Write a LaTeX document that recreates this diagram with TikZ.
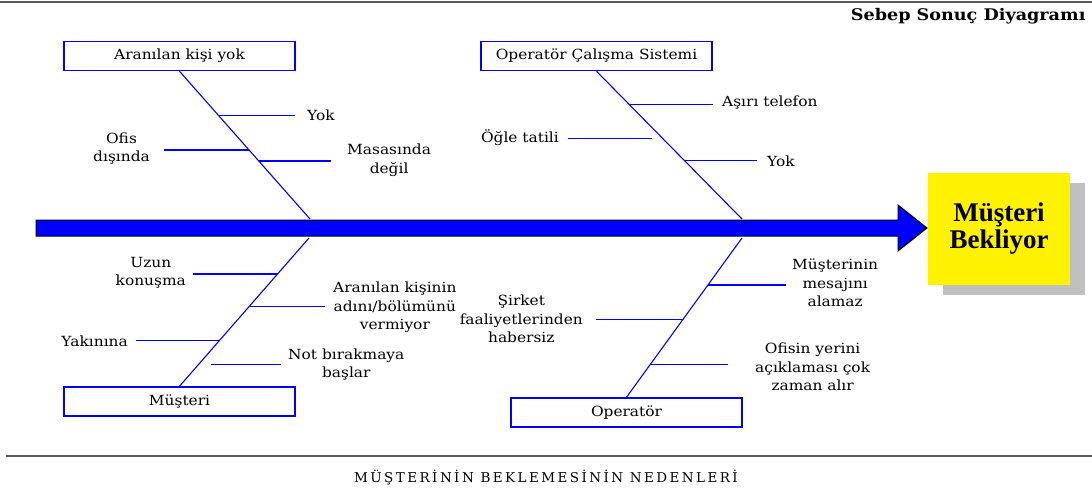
\documentclass[tikz,border=0pt]{standalone}
\usepackage{fontspec}
\setmainfont{DejaVu Serif}[FakeStretch=1.1]
\newfontfamily\headfont{Liberation Serif}
\newfontfamily\capfont{DejaVu Serif}[LetterSpace=18]
\usetikzlibrary{calc, shadows}
\definecolor{bonecol}{RGB}{0, 0, 255}
\definecolor{shadowgray}{RGB}{192, 192, 192}
\definecolor{railgray}{RGB}{90, 90, 90}

\tikzset{
  catbox/.style={draw=bonecol, line width=1.5pt, fill=white, minimum width=231pt, minimum height=29pt, inner sep=0pt, font=\fontsize{14}{17}\selectfont},
  bone/.style={bonecol, line width=1.1pt},
  rib/.style={bonecol, line width=1.6pt, shorten >=10pt},
  cause/.style={align=center, inner xsep=0pt, inner ysep=1pt, font=\fontsize{14}{18.5}\selectfont},
}

\begin{document}
\begin{tikzpicture}[x=1pt, y=-1pt]
  \useasboundingbox (0,0) rectangle (1092,490);
  % page rules
  \draw[railgray, line width=2.5pt] (0,2) -- (1092,2);
  \draw[railgray, line width=2pt] (6,456) -- (1092,456);
  \node[anchor=east, font=\bfseries\fontsize{16}{18}\selectfont] (title) at (1089,16) {Sebep Sonuç Diyagramı};
  \node[font=\capfont\fontsize{13.5}{15}\selectfont] (caption) at (546,478) {MÜŞTERİNİN BEKLEMESİNİN NEDENLERİ};

  % spine
  \filldraw[fill=bonecol, draw=black, line width=1pt] (36,220) -- (898,220) -- (898,205) -- (927,228) -- (898,251) -- (898,236) -- (36,236) -- cycle;
  \coordinate (j1) at (310,219);
  \coordinate (j2) at (742,219);
  \coordinate (j3) at (309,238);
  \coordinate (j4) at (742,238);

  % effect
  \node[fill=yellow, minimum width=142pt, minimum height=112pt, align=center,
        drop shadow={shadow xshift=15pt, shadow yshift=-10pt, fill=shadowgray, opacity=1},
        font=\headfont\bfseries\fontsize{27}{27}\selectfont] (effect) at (999,229) {Müşteri\\Bekliyor};

  % categories
  \node[catbox] (absent) at (179.5,56) {Aranılan kişi yok};
  \node[catbox] (system) at (596.5,56) {Operatör Çalışma Sistemi};
  \node[catbox] (customer) at (179.5,401.5) {Müşteri};
  \node[catbox] (operator) at (626.5,412.5) {Operatör};

  % bones
  \draw[bone] (absent.south) -- (j1) coordinate[pos=0.30] (r11) coordinate[pos=0.535] (r12) coordinate[pos=0.609] (r13);
  \draw[bone] (system.south) -- (j2) coordinate[pos=0.226] (r21) coordinate[pos=0.455] (r22) coordinate[pos=0.603] (r23);
  \draw[bone] (customer.north) -- (j3) coordinate[pos=0.758] (r31) coordinate[pos=0.537] (r32) coordinate[pos=0.309] (r33) coordinate[pos=0.148] (r34);
  \draw[bone] (operator.north) -- (j4) coordinate[pos=0.706] (r41) coordinate[pos=0.4875] (r42) coordinate[pos=0.206] (r43);

  % causes, Aranılan kişi yok
  \node[cause, anchor=west] (l11) at (307,115) {Yok};
  \node[cause, anchor=east] (l12) at (150,148.5) {Ofis\\dışında};
  \node[cause, anchor=west] (l13) at (347,160) {Masasında\\değil};
  \draw[rib, shorten >=12pt] (r11) -- (r11 -| l11.west);
  \draw[rib, shorten >=14pt] (r12) -- (r12 -| l12.east);
  \draw[rib, shorten >=16pt] (r13) -- (r13 -| l13.west);

  % causes, Operatör Çalışma Sistemi
  \node[cause, anchor=west] (l21) at (722,103) {Aşırı telefon};
  \node[cause, anchor=east] (l22) at (559,138) {Öğle tatili};
  \node[cause, anchor=west] (l23) at (767,161) {Yok};
  \draw[rib, shorten >=9pt] (r21) -- (r21 -| l21.west);
  \draw[rib, shorten >=9pt, shorten <=11pt] (r22) -- (r22 -| l22.east);
  \draw[rib] (r23) -- (r23 -| l23.west);

  % causes, Müşteri
  \node[cause, anchor=east] (l31) at (186,272.5) {Uzun\\konuşma};
  \node[cause, anchor=west] (l32) at (333,307.5) {Aranılan kişinin\\adını/bölümünü\\vermiyor};
  \node[cause, anchor=east] (l33) at (128,341) {Yakınına};
  \node[cause, anchor=west] (l34) at (288,364.5) {Not bırakmaya\\başlar};
  \draw[rib, shorten >=7pt] (r31) -- (r31 -| l31.east);
  \draw[rib, shorten >=8pt] (r32) -- (r32 -| l32.west);
  \draw[rib, shorten >=8pt] (r33) -- (r33 -| l33.east);
  \draw[rib, shorten >=7pt, shorten <=12pt] (r34) -- (r34 -| l34.west);

  % causes, Operatör
  \node[cause, anchor=west] (l41) at (792,283) {Müşterinin\\mesajını\\alamaz};
  \node[cause, anchor=east] (l42) at (583,319) {Şirket\\faaliyetlerinden\\habersiz};
  \node[cause, anchor=west] (l43) at (755,367) {Ofisin yerini\\açıklaması çok\\zaman alır};
  \draw[rib, shorten >=6pt] (r41) -- (r41 -| l41.west);
  \draw[rib, shorten >=13pt] (r42) -- (r42 -| l42.east);
  \draw[rib, shorten >=27pt] (r43) -- (r43 -| l43.west);
\end{tikzpicture}
\end{document}
